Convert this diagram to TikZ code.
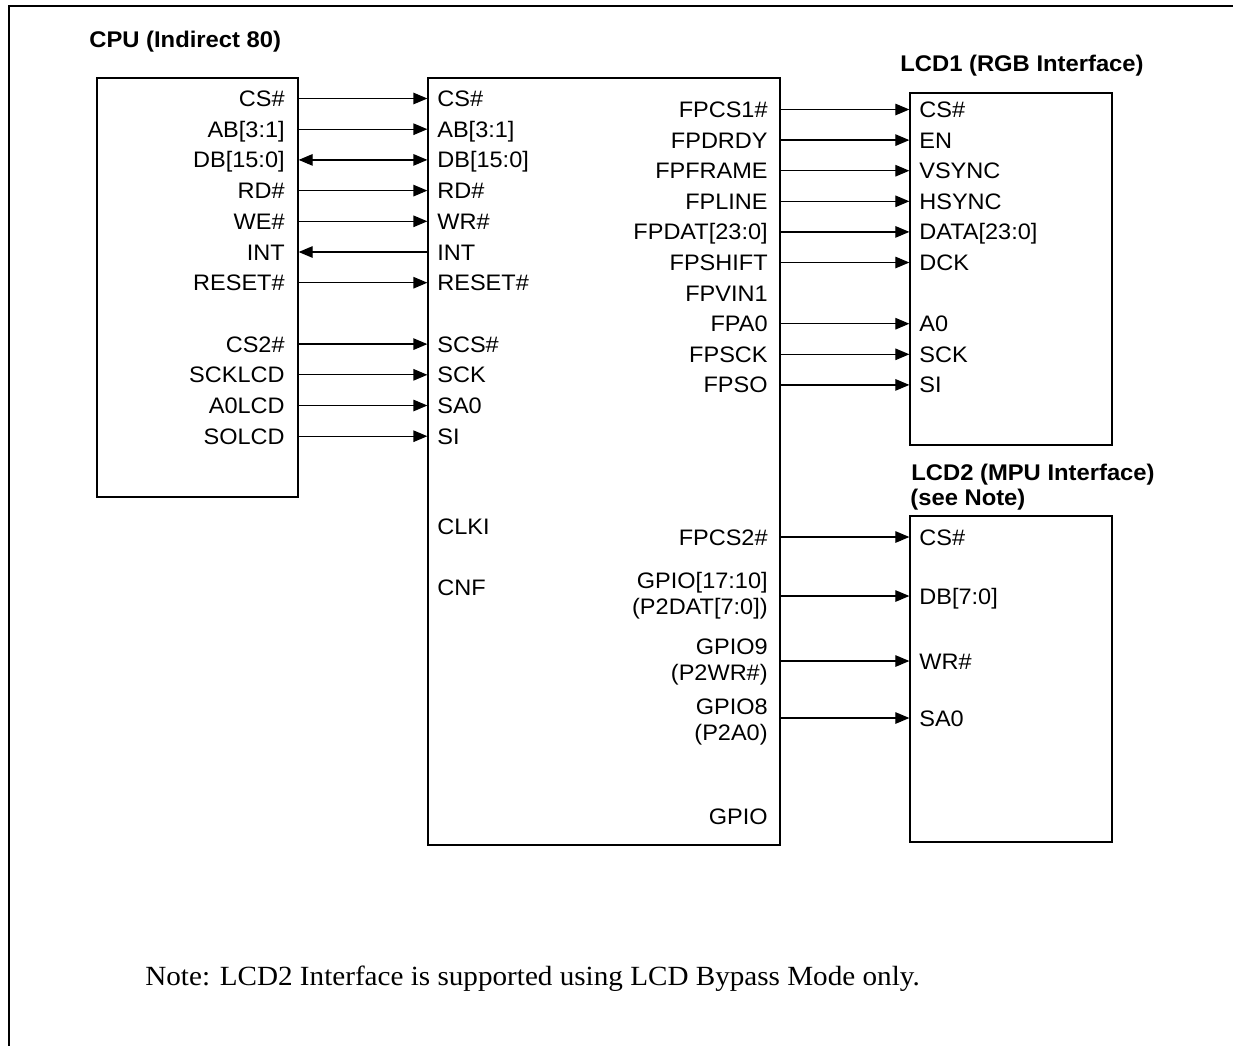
\documentclass[tikz,border=0pt]{standalone}
\usepackage{fontspec}
\setmainfont{Liberation Sans}[FakeStretch=1.05]
\newfontfamily\notefont{Liberation Serif}[FakeStretch=1.05]
\usetikzlibrary{arrows.meta, positioning, calc}
\definecolor{Paper}{HTML}{FFFFFF}
\definecolor{Ink}{HTML}{000000}

\begin{document}
\begin{tikzpicture}[
  x=0.02cm, y=-0.02cm,
  font=\fontsize{12.75}{14.8}\selectfont,
  chip/.style={
    draw=Ink,
    line width=0.75pt,
    fill=Paper,
    inner sep=0pt
  },
  pinl/.style={
    anchor=east,
    inner sep=0pt,
    text height=9.1pt,
    text depth=0pt,
    text=Ink
  },
  pinr/.style={
    anchor=west,
    inner sep=0pt,
    text height=9.1pt,
    text depth=0pt,
    text=Ink
  },
  pinpair/.style={
    anchor=east,
    inner sep=0pt,
    align=right,
    text=Ink
  },
  heading/.style={
    anchor=west,
    inner sep=0pt,
    text height=9.1pt,
    text depth=0pt,
    text=Ink,
    font=\fontsize{12.9}{14.8}\selectfont\bfseries
  },
  sig/.style={
    -{Triangle[length=0.28cm,width=0.23cm]},
    line width=0.7pt,
    draw=Ink
  },
  sigboth/.style={
    {Triangle[length=0.28cm,width=0.23cm]}-{Triangle[length=0.28cm,width=0.23cm]},
    line width=0.7pt,
    draw=Ink
  },
  border/.style={
    draw=Ink,
    line width=1.1pt
  }
]

\fill[Paper] (0,0) rectangle (1233,1046);
\useasboundingbox (0,0) rectangle (1233,1046);
\draw[border] (1233,6) -- (9,6) -- (9,1046);

\node[chip, minimum width=4.02cm, minimum height=8.38cm] (cpu) at (197.5,287.5) {};
\node[chip, minimum width=7.04cm, minimum height=15.34cm] (ctl) at (604,461.5) {};
\node[chip, minimum width=4.04cm, minimum height=7.04cm] (lcda) at (1011,269) {};
\node[chip, minimum width=4.04cm, minimum height=6.52cm] (lcdb) at (1011,679) {};

\node[heading] (cpuhead) at (89,39) {CPU (Indirect 80)};
\node[heading] (lcdahead) at (900,63) {LCD1 (RGB Interface)};
\node[heading] (lcdbhead) at (911,472) {LCD2 (MPU Interface)};
\node[heading] (lcdbnote) at (910,497) {(see Note)};

\node[pinl] (cpucs) at (285,98.5) {CS\#};
\node[pinl] (cpuab) at (285,129.2) {AB[3:1]};
\node[pinl] (cpudb) at (285,159.9) {DB[15:0]};
\node[pinl] (cpurd) at (285,190.6) {RD\#};
\node[pinl] (cpuwe) at (285,221.3) {WE\#};
\node[pinl] (cpuint) at (285,252) {INT};
\node[pinl] (cpurst) at (285,282.7) {RESET\#};
\node[pinl] (cpucstwo) at (285,344.1) {CS2\#};
\node[pinl] (cpusck) at (285,374.8) {SCKLCD};
\node[pinl] (cpusa) at (285,405.5) {A0LCD};
\node[pinl] (cpuso) at (285,436.2) {SOLCD};

\node[pinr] (incs) at (437,98.5) {CS\#};
\node[pinr] (inab) at (437,129.2) {AB[3:1]};
\node[pinr] (indb) at (437,159.9) {DB[15:0]};
\node[pinr] (inrd) at (437,190.6) {RD\#};
\node[pinr] (inwr) at (437,221.3) {WR\#};
\node[pinr] (inint) at (437,252) {INT};
\node[pinr] (inrst) at (437,282.7) {RESET\#};
\node[pinr] (inscs) at (437,344.1) {SCS\#};
\node[pinr] (insck) at (437,374.8) {SCK};
\node[pinr] (insa) at (437,405.5) {SA0};
\node[pinr] (insi) at (437,436.2) {SI};
\node[pinr] (clki) at (437,526) {CLKI};
\node[pinr] (cnf) at (437,587) {CNF};

\draw[sig] (cpu.east |- cpucs) -- (ctl.west |- incs);
\draw[sig] (cpu.east |- cpuab) -- (ctl.west |- inab);
\draw[sigboth] (cpu.east |- cpudb) -- (ctl.west |- indb);
\draw[sig] (cpu.east |- cpurd) -- (ctl.west |- inrd);
\draw[sig] (cpu.east |- cpuwe) -- (ctl.west |- inwr);
\draw[sig] (ctl.west |- inint) -- (cpu.east |- cpuint);
\draw[sig] (cpu.east |- cpurst) -- (ctl.west |- inrst);
\draw[sig] (cpu.east |- cpucstwo) -- (ctl.west |- inscs);
\draw[sig] (cpu.east |- cpusck) -- (ctl.west |- insck);
\draw[sig] (cpu.east |- cpusa) -- (ctl.west |- insa);
\draw[sig] (cpu.east |- cpuso) -- (ctl.west |- insi);

\node[pinl] (fpcsa) at (768,109.5) {FPCS1\#};
\node[pinl] (fpdrdy) at (768,140.1) {FPDRDY};
\node[pinl] (fpframe) at (768,170.7) {FPFRAME};
\node[pinl] (fpline) at (768,201.3) {FPLINE};
\node[pinl] (fpdat) at (768,231.9) {FPDAT[23:0]};
\node[pinl] (fpshift) at (768,262.5) {FPSHIFT};
\node[pinl] (fpvin) at (768,293.1) {FPVIN1};
\node[pinl] (fpa) at (768,323.7) {FPA0};
\node[pinl] (fpsck) at (768,354.3) {FPSCK};
\node[pinl] (fpso) at (768,384.9) {FPSO};

\node[pinr] (lacs) at (919,109.5) {CS\#};
\node[pinr] (laen) at (919,140.1) {EN};
\node[pinr] (lavs) at (919,170.7) {VSYNC};
\node[pinr] (lahs) at (919,201.3) {HSYNC};
\node[pinr] (ladata) at (919,231.9) {DATA[23:0]};
\node[pinr] (ladck) at (919,262.5) {DCK};
\node[pinr] (laa) at (919,323.7) {A0};
\node[pinr] (lasck) at (919,354.3) {SCK};
\node[pinr] (lasi) at (919,384.9) {SI};

\draw[sig] (ctl.east |- fpcsa) -- (lcda.west |- lacs);
\draw[sig] (ctl.east |- fpdrdy) -- (lcda.west |- laen);
\draw[sig] (ctl.east |- fpframe) -- (lcda.west |- lavs);
\draw[sig] (ctl.east |- fpline) -- (lcda.west |- lahs);
\draw[sig] (ctl.east |- fpdat) -- (lcda.west |- ladata);
\draw[sig] (ctl.east |- fpshift) -- (lcda.west |- ladck);
\draw[sig] (ctl.east |- fpa) -- (lcda.west |- laa);
\draw[sig] (ctl.east |- fpsck) -- (lcda.west |- lasck);
\draw[sig] (ctl.east |- fpso) -- (lcda.west |- lasi);

\node[pinl] (fpcsb) at (768,537) {FPCS2\#};
\node[pinpair] (gpiodat) at (768,596) {GPIO[17:10]\\(P2DAT[7:0])};
\node[pinpair] (gpiowr) at (768,662) {GPIO9\\(P2WR\#)};
\node[pinpair] (gpioa) at (768,722) {GPIO8\\(P2A0)};
\node[pinl] (gpio) at (768,816) {GPIO};

\node[pinr] (lbcs) at (919,537) {CS\#};
\node[pinr] (lbdb) at (919,596) {DB[7:0]};
\node[pinr] (lbwr) at (919,661) {WR\#};
\node[pinr] (lbsa) at (919,718) {SA0};

\draw[sig] (ctl.east |- lbcs) -- (lcdb.west |- lbcs);
\draw[sig] (ctl.east |- lbdb) -- (lcdb.west |- lbdb);
\draw[sig] (ctl.east |- lbwr) -- (lcdb.west |- lbwr);
\draw[sig] (ctl.east |- lbsa) -- (lcdb.west |- lbsa);

\node[anchor=base west, inner sep=0pt, text=Ink,
  font=\notefont\fontsize{15.8}{18}\selectfont] (note) at (145,985)
  {Note: LCD2 Interface is supported using LCD Bypass Mode only.};

\end{tikzpicture}
\end{document}
